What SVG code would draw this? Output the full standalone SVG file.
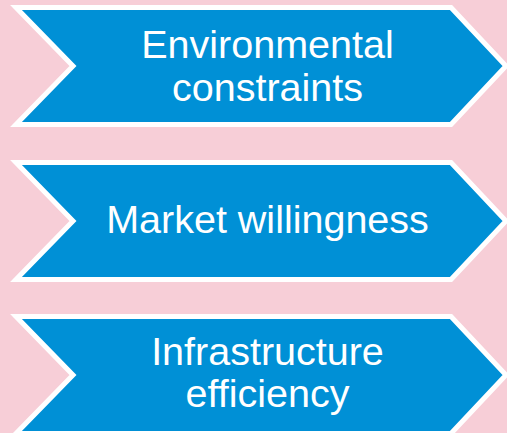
<svg xmlns="http://www.w3.org/2000/svg" width="507" height="433" viewBox="0 0 507 433">
  <style>
    .chev { fill: #0090D6; stroke: #FFFFFF; stroke-width: 5; stroke-linejoin: miter; }
    .lbl { font-family: "Liberation Sans", Arial, sans-serif; font-size: 39.5px; fill: #FFFFFF; text-anchor: middle; }
  </style>
  <rect width="507" height="433" fill="#F7CED7"/>
  <g id="connectors"/>
  <g id="node-environmental">
    <polygon class="chev" points="16,7.5 451,7.5 506,66 451,124.5 16,124.5 73,66"/>
    <text class="lbl" x="267.5" y="58">Environmental</text>
    <text class="lbl" x="267.5" y="100.5">constraints</text>
  </g>
  <g id="node-market">
    <polygon class="chev" points="16,162.5 451,162.5 506,221 451,279.5 16,279.5 73,221"/>
    <text class="lbl" x="267.5" y="233">Market willingness</text>
  </g>
  <g id="node-infrastructure">
    <polygon class="chev" points="16,316.5 451,316.5 506,375 451,433.5 16,433.5 73,375"/>
    <text class="lbl" x="267.5" y="365">Infrastructure</text>
    <text class="lbl" x="267.5" y="406.5">efficiency</text>
  </g>
</svg>
